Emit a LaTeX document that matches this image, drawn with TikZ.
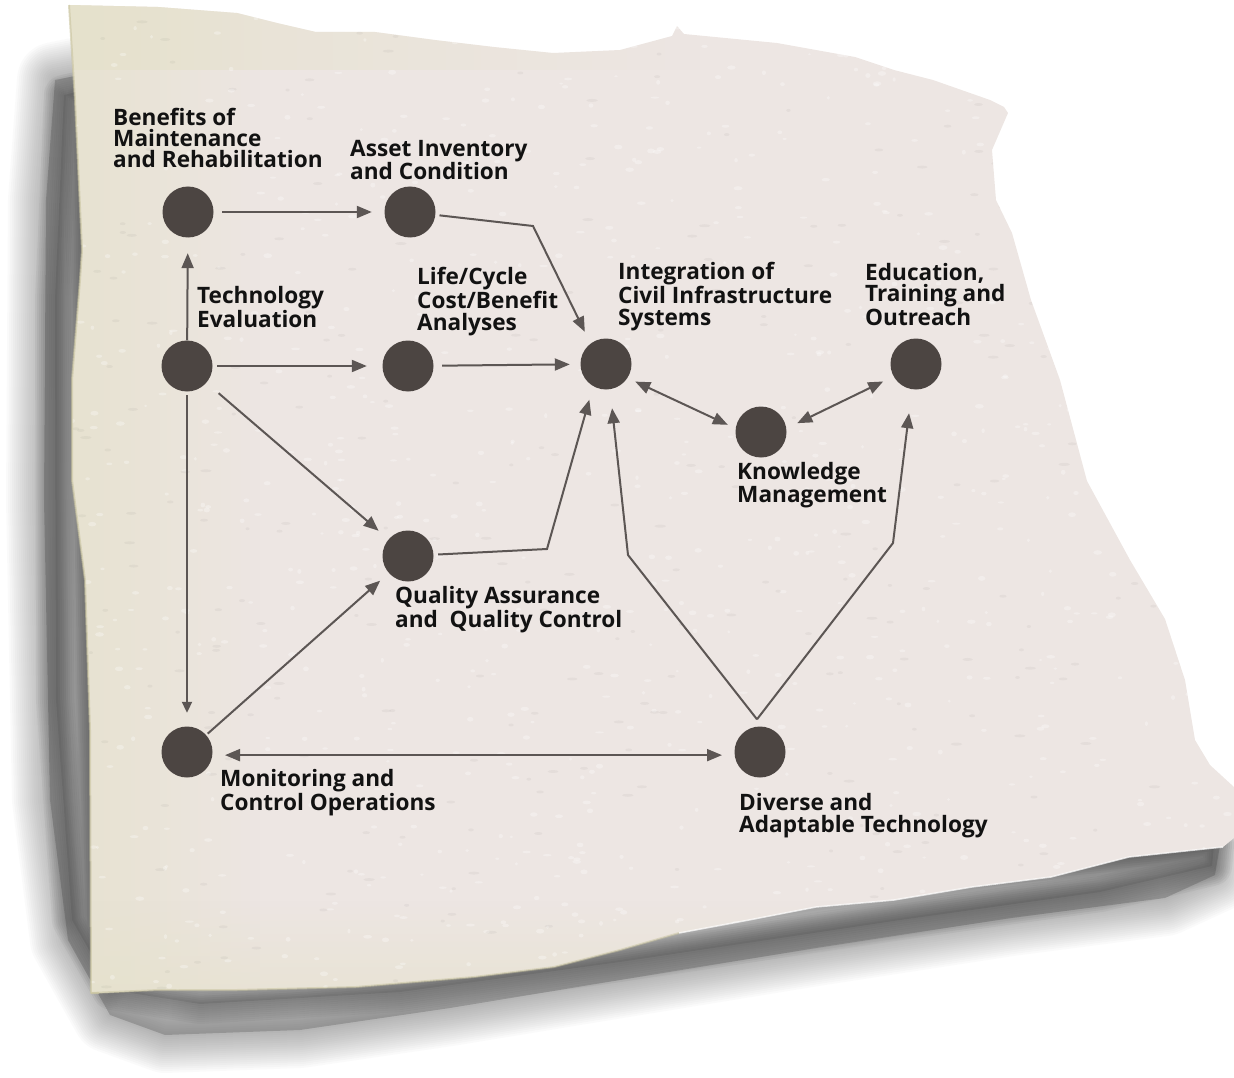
\documentclass[tikz,border=0pt]{standalone}
\usepackage{fontspec}
\setsansfont{Open Sans}
\usetikzlibrary{arrows.meta,fadings}

\definecolor{paper}{HTML}{EDE6E3}
\definecolor{cream}{HTML}{E5E1CA}
\definecolor{edge}{HTML}{C9C49F}
\definecolor{shadowcol}{HTML}{333333}
\definecolor{dotcol}{HTML}{4C4542}
\definecolor{linkcol}{HTML}{5C5654}
\definecolor{inkcol}{HTML}{121212}

\tikzfading[name=fadeleft, left color=transparent!0, right color=transparent!100]
\tikzfading[name=fadeup, bottom color=transparent!0, top color=transparent!100]

\tikzset{
  dot/.style={circle, fill=dotcol, draw=none, minimum size=51pt, inner sep=0pt},
  lbl/.style={font=\sffamily\bfseries\fontsize{22.6}{21.3}\selectfont, text=inkcol,
              align=left, anchor=base west, inner sep=0pt},
  conn/.style={draw=linkcol, line width=2pt, -{Triangle[length=15pt,width=12pt]}},
  twoway/.style={draw=linkcol, line width=2pt, {Triangle[length=15pt,width=12pt]}-{Triangle[length=15pt,width=12pt]}},
  smallhead/.style={-{Triangle[length=11pt,width=10pt]}}
}

\begin{document}
\begin{tikzpicture}[x=1pt,y=-1pt]
\useasboundingbox (0,0) rectangle (1234,1078);

% ---------- soft shadow under the sheet ----------
\def\shadowpath{(55,80) -- (46,200) -- (44,500) -- (50,800) -- (68,940) -- (110,1015)
  -- (165,1035) -- (300,1030) -- (450,1008) -- (620,980) -- (816,948) -- (1011,918)
  -- (1165,898) -- (1215,875) -- (1220,845) -- (1000,860) -- (100,960) -- (80,75) -- cycle}
\foreach \w in {76,72,...,4}
  \draw[shadowcol, line width=\w pt, line join=round, draw opacity=0.022] \shadowpath;
\fill[shadowcol, opacity=0.25] \shadowpath;
% darker core close to the sheet's edge
\def\corepath{(64,95) -- (55,300) -- (56,700) -- (72,920) -- (112,990) -- (200,1004)
  -- (400,992) -- (620,962) -- (900,920) -- (1100,892) -- (1212,866) -- (1214,845)
  -- (100,960) -- (85,90) -- cycle}
\foreach \w in {40,36,...,4}
  \draw[shadowcol, line width=\w pt, line join=round, draw opacity=0.055] \corepath;
\fill[shadowcol, opacity=0.15] \corepath;

% ---------- the sheet ----------
\def\paperpath{(69,5) -- (158,7) -- (237,13) -- (277,23) -- (316,32) -- (375,32)
  -- (435,40) -- (494,47) -- (553,53) -- (620,50) -- (672,36) -- (677,26) -- (684,34)
  -- (777,43) -- (855,57) -- (894,70) -- (933,80) -- (990,100) -- (1004,107)
  -- (1008,113) -- (992,150) -- (996,200) -- (1012,233) -- (1031,300) -- (1060,380)
  -- (1087,481) -- (1130,560) -- (1165,619) -- (1185,680) -- (1195,740) -- (1210,765)
  -- (1234,787) -- (1234,838) -- (1223,847) -- (1129,857) -- (1051,877) -- (972,887)
  -- (894,900) -- (816,907) -- (749,920) -- (679,933) -- (620,950) -- (554,967)
  -- (474,977) -- (356,987) -- (237,990) -- (158,990) -- (99,993) -- (91,993)
  -- (90,730) -- (85,580) -- (72,480) -- (72,380) -- (80,280) -- (82,250) -- (75,100) -- cycle}
\fill[paper] \paperpath;
\begin{scope}
  \clip \paperpath;
  \fill[cream, path fading=fadeleft, opacity=0.8] (60,0) rectangle (260,1000);
  \fill[cream, path fading=fadeleft, opacity=0.7] (60,0) rectangle (700,70);
  \fill[cream, path fading=fadeup, opacity=0.6] (60,900) rectangle (1234,1000);
  % paper grain
  \pgfmathsetseed{1234}
  \foreach \i in {1,...,900}{
    \pgfmathsetmacro\px{70+1160*rnd}
    \pgfmathsetmacro\py{5+990*rnd}
    \pgfmathsetmacro\rx{1.5+3*rnd}
    \pgfmathsetmacro\ry{1+1.5*rnd}
    \fill[white, opacity=0.3] (\px,\py) ellipse (\rx pt and \ry pt);
  }
  \foreach \i in {1,...,300}{
    \pgfmathsetmacro\px{70+1160*rnd}
    \pgfmathsetmacro\py{5+990*rnd}
    \pgfmathsetmacro\rx{2+4*rnd}
    \fill[black, opacity=0.035] (\px,\py) ellipse (\rx pt and 1.5pt);
  }
\end{scope}
\draw[edge, line width=2pt, opacity=0.6, line join=round]
  (99,993) -- (91,993) -- (90,730) -- (85,580) -- (72,480) -- (72,380) -- (80,280) -- (82,250) -- (75,100) -- (69,5);
\draw[edge, line width=2pt, opacity=0.5, line join=round]
  (91,993) -- (158,990) -- (237,990) -- (356,987) -- (474,977) -- (554,967) -- (620,950) -- (679,933);
\draw[white, line width=1.5pt, opacity=0.7, line join=round]
  (679,933) -- (749,920) -- (816,907) -- (894,900) -- (972,887) -- (1051,877) -- (1129,857) -- (1223,847);

% ---------- nodes ----------
\node[dot] (B) at (188,212) {};
\node[dot] (A) at (410,212) {};
\node[dot] (T) at (187,366) {};
\node[dot] (L) at (408,366) {};
\node[dot] (I) at (606,364) {};
\node[dot] (E) at (916,364) {};
\node[dot] (K) at (761,432) {};
\node[dot] (Q) at (408,556) {};
\node[dot] (M) at (187,752) {};
\node[dot] (D) at (760,752) {};

% ---------- labels (anchored at the baseline of their last line) ----------
\node[lbl] (lB) at (113,168) {Benefits of\\Maintenance\\and Rehabilitation};
\node[lbl] (lA) at (350,180) {Asset Inventory\\and Condition};
\node[lbl] (lT) at (197,327) {Technology\\Evaluation};
\node[lbl] (lL) at (417,330) {Life/Cycle\\Cost/Benefit\\Analyses};
\node[lbl] (lI) at (618,325) {Integration of\\Civil Infrastructure\\Systems};
\node[lbl] (lE) at (865,325) {Education,\\Training and\\Outreach};
\node[lbl] (lK) at (737,502) {Knowledge\\Management};
\node[lbl] (lQ) at (395,627) {Quality Assurance\\and \ Quality Control};
\node[lbl] (lM) at (220,810) {Monitoring and\\Control Operations};
\node[lbl] (lD) at (739,832) {Diverse and\\Adaptable Technology};

% ---------- bends ----------
\coordinate (abend) at (533,226);
\coordinate (qbend) at (547,549);
\coordinate (dbendI) at (628,555);
\coordinate (dbendE) at (893,543);
\coordinate (apex) at ([xshift=-3pt,yshift=7pt]D.north);

% ---------- connectors ----------
\draw[conn, shorten <=8.5pt, shorten >=12.5pt] (B) -- (A);
\draw[conn, shorten >=15.5pt] (T) -- (B);
\draw[conn, shorten <=4.5pt, shorten >=15.5pt] (T) -- (L);
\draw[conn, shorten <=8.5pt, shorten >=10.5pt] (L) -- (I);
\draw[conn, shorten <=4pt, shorten >=13pt] (A) -- (abend) -- (I.127);
\draw[conn, shorten <=16pt, shorten >=13pt] (T) -- (Q);
\draw[conn, smallhead, shorten <=3.5pt, shorten >=13.5pt] (T) -- (M);
\draw[conn, shorten <=2pt, shorten >=11.5pt] (M) -- (Q);
\draw[conn, shorten <=4.5pt, shorten >=14pt] (Q) -- (qbend) -- (I.240);
\draw[conn, shorten >=19pt] (apex) -- (dbendI) -- (I.279);
\draw[conn, shorten >=24pt] (apex) -- (dbendE) -- (E.261);
\draw[twoway, shorten <=8.5pt, shorten >=8.5pt] (I.-33) -- (K.172);
\draw[twoway, shorten <=12pt, shorten >=11.5pt] (K.8) -- (E.209);
\draw[twoway, shorten <=12.5pt, shorten >=12.5pt] (M.-7) -- (D.187);
\end{tikzpicture}
\end{document}
